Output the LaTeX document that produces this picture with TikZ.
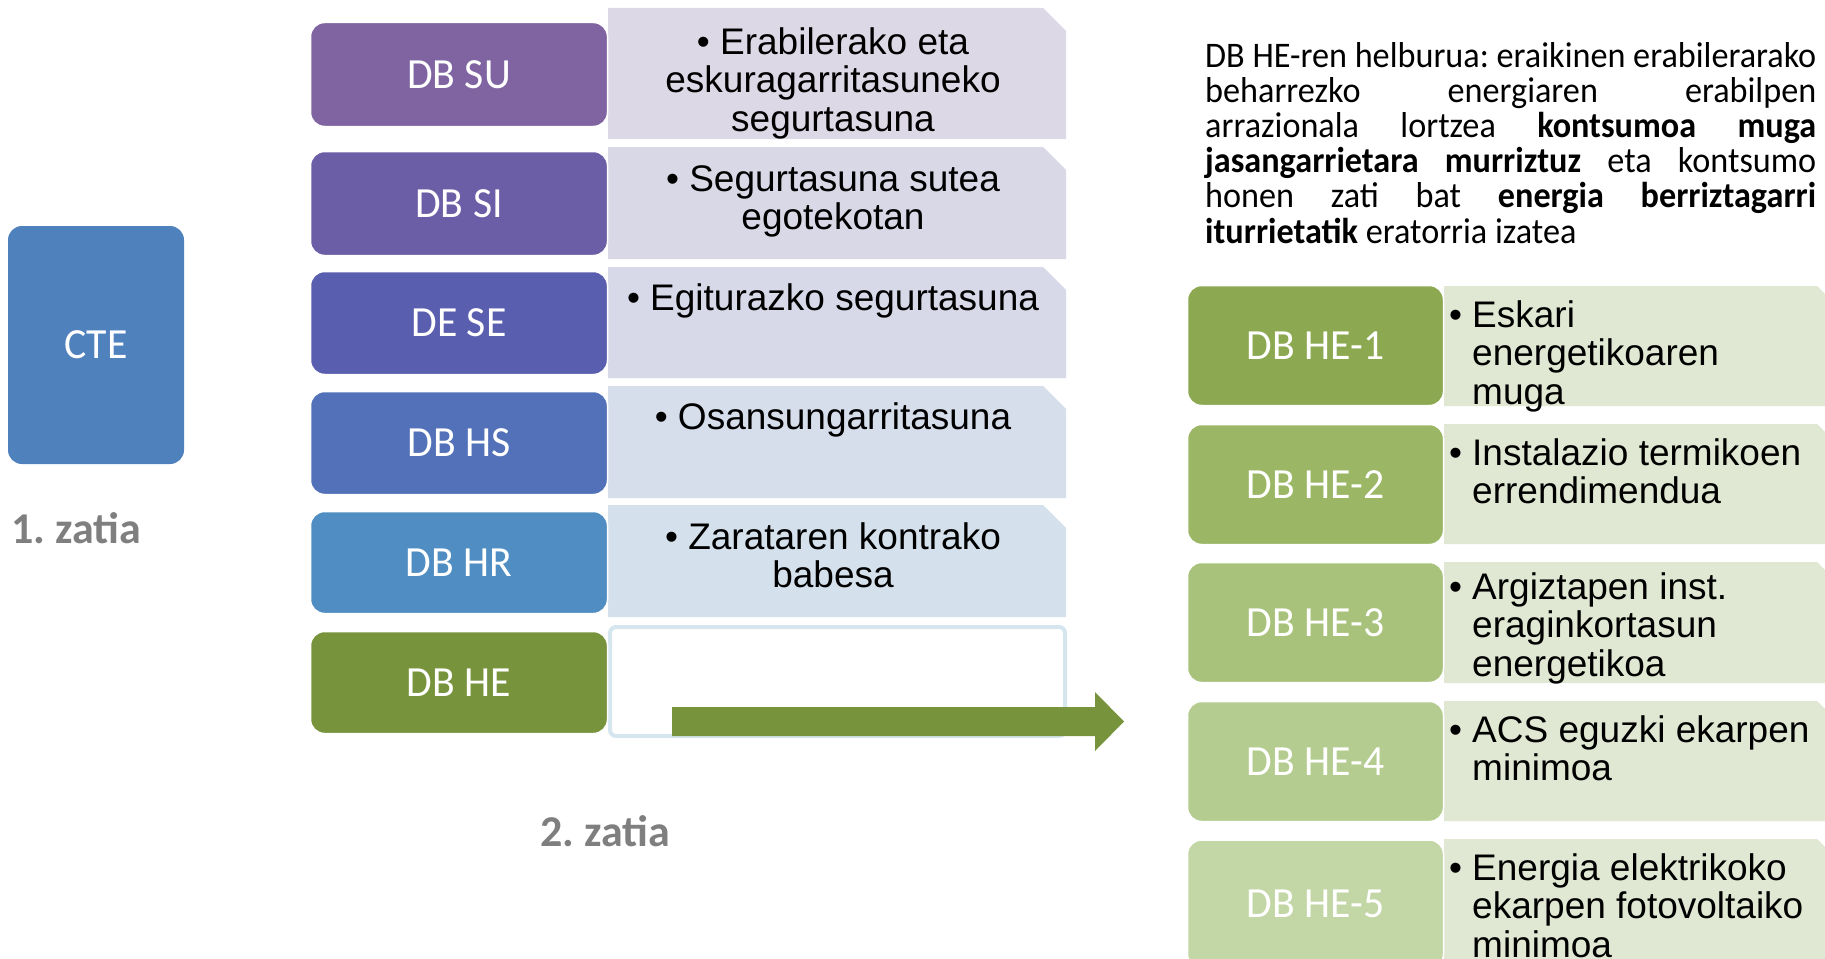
\documentclass[tikz,border=0pt]{standalone}
\usepackage{fontspec}
\setmainfont{Carlito}
\newfontfamily\arialf{Liberation Sans}
\newfontfamily\calf{Carlito}[FakeStretch=0.95]
\newfontfamily\labf{Carlito}[FakeStretch=0.97]
\frenchspacing
\definecolor{cte}{HTML}{4F81BD}
\definecolor{csu}{HTML}{8064A2}
\definecolor{csi}{HTML}{6C5EA6}
\definecolor{cse}{HTML}{5A5EAE}
\definecolor{chs}{HTML}{5371B8}
\definecolor{chr}{HTML}{4F8DC2}
\definecolor{che}{HTML}{77933C}
\definecolor{lsu}{HTML}{DCD8E5}
\definecolor{lsi}{HTML}{D9D8E6}
\definecolor{lse}{HTML}{D7D9E8}
\definecolor{lhs}{HTML}{D6DDEB}
\definecolor{lhr}{HTML}{D4E0EB}
\definecolor{lhe}{HTML}{D5E6EE}
\definecolor{hea}{HTML}{8CA850}
\definecolor{heb}{HTML}{9BB765}
\definecolor{hec}{HTML}{A8C27B}
\definecolor{hed}{HTML}{B5CC91}
\definecolor{hee}{HTML}{C3D6A6}
\definecolor{lgr}{HTML}{E0E8D3}
\definecolor{gtxt}{HTML}{7F7F7F}
\tikzset{
  darkbox/.style={rounded corners=14pt, draw=white, line width=1.5pt, inner sep=0pt,
    text=white, font=\labf\fontsize{43}{46}\selectfont},
  midtext/.style={anchor=north, inner sep=0pt, align=center,
    font=\arialf\fontsize{37}{38.5}\selectfont},
  righttext/.style={anchor=north west, inner sep=0pt,
    font=\arialf\fontsize{37}{38.5}\selectfont},
  parttitle/.style={inner sep=0pt, text=gtxt, font=\bfseries\fontsize{44}{48}\selectfont},
}
\newcommand{\chamf}[5]{% color, x1, y1, x2, y2
  \fill[#1] (#2,#3) -- ({#4-23},#3) -- (#4,{#3+23}) -- (#4,#5) -- (#2,#5) -- cycle;}
\newcommand{\bul}[1]{\makebox[23pt][l]{•}\parbox[t]{340pt}{#1}}
\begin{document}
\begin{tikzpicture}[x=1pt,y=-1pt]
\useasboundingbox (0,0) rectangle (1825,958);
\clip (0,0) rectangle (1825,958);

% part 1
\node[darkbox, draw=none, fill=cte, minimum width=176pt, minimum height=238pt] (cte) at (96,345) {CTE};
\node[parttitle, anchor=west] (p1) at (11,528) {1. zatia};

% middle light boxes
\chamf{lsu}{608}{8}{1066}{139}
\chamf{lsi}{608}{147}{1066}{259}
\chamf{lse}{608}{267}{1066}{378}
\chamf{lhs}{608}{386}{1066}{498}
\chamf{lhr}{608}{505}{1066}{617}
\draw[lhe, line width=4pt, fill=white, rounded corners=6pt] (610,627) rectangle (1065,736);

\node[midtext] (tsu) at (833,27) {• Erabilerako eta\\eskuragarritasuneko\\segurtasuna};
\node[midtext] (tsi) at (833,165) {• Segurtasuna sutea\\egotekotan};
\node[midtext] (tse) at (833,283) {• Egiturazko segurtasuna};
\node[midtext] (ths) at (833,402) {• Osansungarritasuna};
\node[midtext] (thr) at (833,522) {• Zarataren kontrako\\babesa};

% middle dark boxes
\node[darkbox, fill=csu, minimum width=297pt, minimum height=104pt] (su) at (459,74.5) {DB SU};
\node[darkbox, fill=csi, minimum width=297pt, minimum height=104pt] (si) at (459,203.5) {DB SI};
\node[darkbox, fill=cse, minimum width=297pt, minimum height=103pt] (se) at (459,323) {DE SE};
\node[darkbox, fill=chs, minimum width=297pt, minimum height=103pt] (hs) at (459,443) {DB HS};
\node[darkbox, fill=chr, minimum width=297pt, minimum height=102pt] (hr) at (459,562.5) {DB HR};
\node[darkbox, fill=che, minimum width=297pt, minimum height=102pt] (he) at (459,682.5) {DB HE};
\node[parttitle] (p2) at (605,831) {2. zatia};

% arrow
\fill[che] (672,707) -- (1095,707) -- (1095,692) -- (1124,721.5) -- (1095,751) -- (1095,736) -- (672,736) -- cycle;

% paragraph
\node[anchor=north west, inner sep=0pt, text width=611pt, align=justify,
  font=\calf\fontsize{36}{35.2}\selectfont] (goal) at (1205,42)
{\tolerance=10000\hyphenpenalty=10000 DB HE-ren helburua: eraikinen erabilerarako\linebreak
beharrezko energiaren erabilpen\linebreak
arrazionala lortzea \textbf{kontsumoa muga}\linebreak
\textbf{jasangarrietara murriztuz} eta kontsumo\linebreak
honen zati bat \textbf{energia berriztagarri}\linebreak
\textbf{iturrietatik} eratorria izatea};

% right light boxes
\chamf{lgr}{1444}{286}{1840}{406}
\chamf{lgr}{1444}{424}{1840}{544}
\chamf{lgr}{1444}{562}{1840}{683}
\chamf{lgr}{1444}{701}{1840}{821}
\chamf{lgr}{1444}{839}{1840}{970}

\node[righttext] (t1) at (1449,300) {\bul{Eskari\\energetikoaren\\muga}};
\node[righttext] (t2) at (1449,438) {\bul{Instalazio termikoen\\errendimendua}};
\node[righttext] (t3) at (1449,572) {\bul{Argiztapen inst.\\eraginkortasun\\energetikoa}};
\node[righttext] (t4) at (1449,715) {\bul{ACS eguzki ekarpen\\minimoa}};
\node[righttext] (t5) at (1449,853) {\bul{Energia elektrikoko\\ekarpen fotovoltaiko\\minimoa}};

% right dark boxes
\node[darkbox, fill=hea, minimum width=256pt, minimum height=120pt] (he1) at (1315.5,345.5) {DB HE-1};
\node[darkbox, fill=heb, minimum width=256pt, minimum height=120pt] (he2) at (1315.5,484.5) {DB HE-2};
\node[darkbox, fill=hec, minimum width=256pt, minimum height=120pt] (he3) at (1315.5,622.5) {DB HE-3};
\node[darkbox, fill=hed, minimum width=256pt, minimum height=120pt] (he4) at (1315.5,761.5) {DB HE-4};
\node[darkbox, fill=hee, minimum width=256pt, minimum height=128pt] (he5) at (1315.5,904) {DB HE-5};
\end{tikzpicture}
\end{document}
